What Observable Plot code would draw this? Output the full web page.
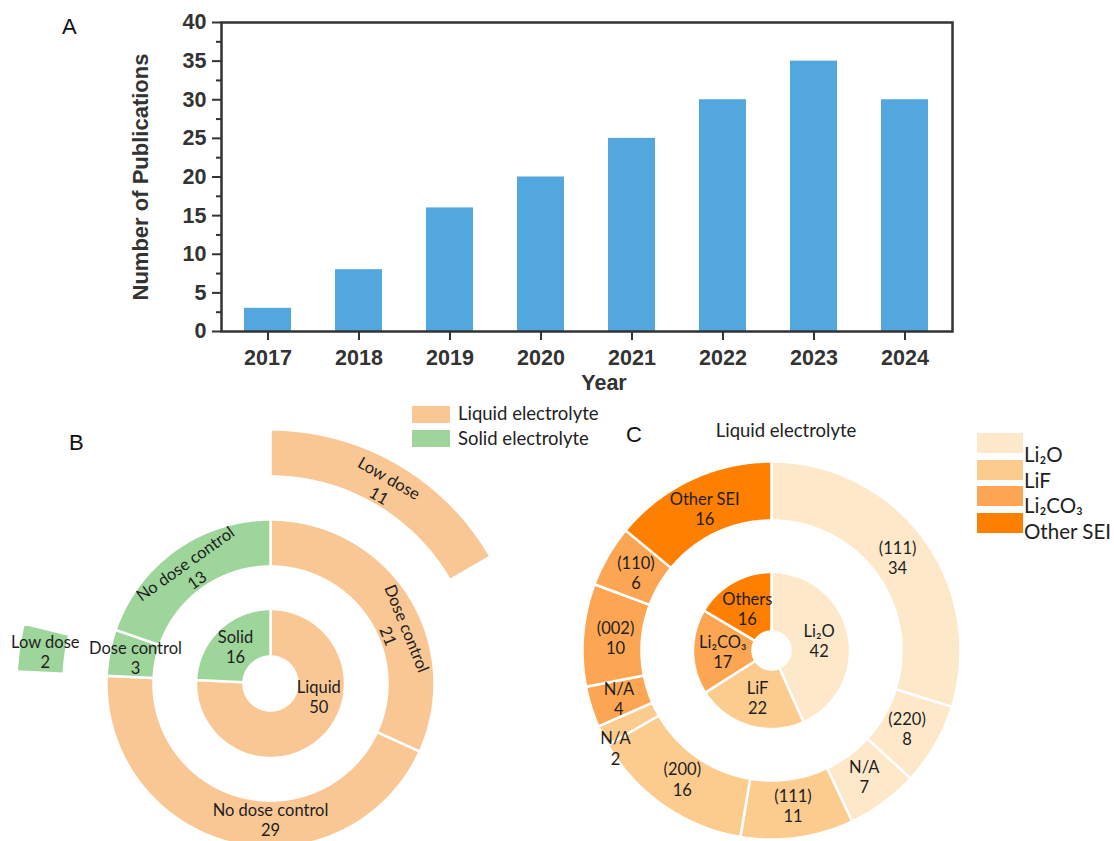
<!DOCTYPE html>
<html>
<head>
<meta charset="utf-8">
<script src="https://cdn.jsdelivr.net/npm/d3@7"></script>
<script src="https://cdn.jsdelivr.net/npm/@observablehq/plot@0.6"></script>
<style>
  body { margin: 0; background: #fff; }
  #page { position: relative; width: 1114px; height: 841px; overflow: hidden; font-family: Lato, "Open Sans", sans-serif; color: #222; }
  .abs { position: absolute; white-space: nowrap; }
  .letter { font-family: "Liberation Sans", Arial, sans-serif; font-size: 22px; color: #111; height: 30px; line-height: 30px; }
  .sw { position: absolute; }
</style>
</head>
<body>
<div id="page"></div>
<script>
// ---------- Panel A data ----------
const years = ["2017", "2018", "2019", "2020", "2021", "2022", "2023", "2024"];
const publications = [3, 8, 16, 20, 25, 30, 35, 30];
const yTicks = [0, 5, 10, 15, 20, 25, 30, 35, 40];
const yMinorTicks = [2.5, 7.5, 12.5, 17.5, 22.5, 27.5, 32.5, 37.5];

// ---------- Panel B data ----------
const bInnerNames = ["Liquid", "Solid"];
const bInnerValues = [50, 16];
const bMiddleNames = ["Dose control", "No dose control", "Dose control", "No dose control"];
const bMiddleParents = ["Liquid", "Liquid", "Solid", "Solid"];
const bMiddleValues = [21, 29, 3, 13];
const bOuterNames = ["Low dose", "Low dose"];
const bOuterParents = ["Liquid", "Solid"]; // children of each "Dose control"
const bOuterValues = [11, 2];
const bLegend = ["Liquid electrolyte", "Solid electrolyte"];

// ---------- Panel C data ----------
const cInnerNames = ["Li₂O", "LiF", "Li₂CO₃", "Others"];
const cInnerGroups = ["Li2O", "LiF", "Li2CO3", "Other SEI"];
const cInnerValues = [42, 22, 17, 16];
const cOuterNames = ["(111)", "(220)", "N/A", "(111)", "(200)", "N/A", "N/A", "(002)", "(110)", "Other SEI"];
const cOuterGroups = ["Li2O", "Li2O", "Li2O", "LiF", "LiF", "LiF", "Li2CO3", "Li2CO3", "Li2CO3", "Other SEI"];
const cOuterValues = [34, 8, 7, 11, 16, 2, 4, 10, 6, 16];
const cLegend = ["Li₂O", "LiF", "Li₂CO₃", "Other SEI"];
const cTitle = "Liquid electrolyte";

// ---------- styles / layout ----------
const barColor = "#53A7DF";
const bColors = {Liquid: "#F9C794", Solid: "#9DD59B"};
const cColors = {"Li2O": "#FEE8CA", "LiF": "#FCCB8E", "Li2CO3": "#FCA654", "Other SEI": "#FF8000"};
// label placement tweaks (segment index -> [angle in degrees, radius in px])
const bLabelTweaks = {0: [105, 50], 2: [68, null], 3: [180, 136]};
const cLabelTweaks = {9: [238, 184], 10: [252.5, 160]};

const page = document.getElementById("page");
function put(el, left, top) {
  el.style.position = "absolute";
  el.style.left = left + "px";
  el.style.top = top + "px";
  page.appendChild(el);
  return el;
}
function textDiv(txt, cls, style) {
  const d = document.createElement("div");
  d.className = "abs " + (cls || "");
  d.textContent = txt;
  Object.assign(d.style, style || {});
  return d;
}

// ---------- Panel A ----------
const barData = years.map((y, i) => ({year: y, count: publications[i]}));
const axisFont = {fontSize: 21.5, fontWeight: "bold", fontFamily: "'Liberation Sans', Arial, sans-serif"};
const chartA = Plot.plot({
  width: 1114, height: 400,
  marginLeft: 221, marginRight: 162, marginTop: 22, marginBottom: 69,
  style: {background: "transparent", color: "#333"},
  x: {domain: years, paddingInner: 0.48, paddingOuter: 0.243, label: null},
  y: {domain: [0, 40], label: null},
  marks: [
    Plot.barY(barData, {x: "year", y: "count", fill: barColor}),
    Plot.axisY({ticks: yTicks, tickSize: 9, tickPadding: 6, stroke: "#333", strokeWidth: 2, fill: "#333", label: null, ...axisFont}),
    Plot.axisY({ticks: yMinorTicks, tickSize: 5, tickFormat: () => "", stroke: "#333", strokeWidth: 2, label: null}),
    Plot.axisX({tickSize: 9, tickPadding: 9, stroke: "#333", strokeWidth: 2, fill: "#333", label: null, ...axisFont}),
    Plot.frame({stroke: "#333", strokeWidth: 2.5}),
    Plot.text(["Number of Publications"], {frameAnchor: "left", dx: -81, rotate: -90, textAnchor: "middle", lineAnchor: "middle", fill: "#333", fontSize: 22, fontWeight: "bold", fontFamily: "'Liberation Sans', Arial, sans-serif"}),
    Plot.text(["Year"], {frameAnchor: "bottom", dy: 52, dx: 17, textAnchor: "middle", lineAnchor: "middle", fill: "#333", fontSize: 21.5, fontWeight: "bold", fontFamily: "'Liberation Sans', Arial, sans-serif"})
  ]
});
put(chartA, 0, 0);

// ---------- Sunburst helper ----------
function sunburst({segments, width, height, cx, cy, rings, rotateLabels, strokeWidth, tweaks, fontSize}) {
  const poly = [];
  const labels = [];
  segments.forEach((s, k) => {
    const a0 = s.start / s.total * 360, a1 = (s.start + s.value) / s.total * 360;
    const [r0, r1] = rings[s.level];
    const n = Math.max(4, Math.ceil((a1 - a0) / 0.75));
    const ring = [];
    for (let i = 0; i <= n; i++) {
      const a = (a0 + (a1 - a0) * i / n) * Math.PI / 180;
      ring.push([r1 * Math.sin(a), r1 * Math.cos(a)]);
    }
    for (let i = n; i >= 0; i--) {
      const a = (a0 + (a1 - a0) * i / n) * Math.PI / 180;
      ring.push([r0 * Math.sin(a), r0 * Math.cos(a)]);
    }
    ring.push(ring[0]);
    ring.forEach(([px, py]) => poly.push({id: k, px, py, fill: s.color}));
    const tw = tweaks[k] || [null, null];
    const am = tw[0] != null ? tw[0] : (a0 + a1) / 2;
    const rm = tw[1] != null ? tw[1] : (s.level === 0 ? (r0 + r1) / 2 : (r0 + r1) / 2 - 3);
    let rot = 0;
    if (rotateLabels && s.level > 0 && a1 - a0 > 40) {
      rot = am;
      if (rot > 90 && rot < 270) rot -= 180;
      if (rot >= 270) rot -= 360;
    }
    const ar = am * Math.PI / 180;
    labels.push({lx: rm * Math.sin(ar), ly: rm * Math.cos(ar), text: s.label + "\n" + s.value, rot});
  });
  return Plot.plot({
    width, height, margin: 0,
    style: {background: "transparent", overflow: "visible"},
    x: {domain: [-cx, width - cx], axis: null},
    y: {domain: [-(height - cy), cy], axis: null},
    color: {type: "identity"},
    marks: [
      Plot.line(poly, {x: "px", y: "py", z: "id", fill: "fill", stroke: "white", strokeWidth, curve: "linear", strokeLinejoin: "miter"}),
      Plot.text(labels, {x: "lx", y: "ly", text: "text", rotate: "rot", fontSize, fontFamily: "Lato, 'Open Sans', sans-serif", fill: "#1e1e1e", lineHeight: 1.22})
    ]
  });
}

// ---------- Panel B ----------
const bTotal = d3.sum(bInnerValues);
const bSegs = [];
{
  let acc = 0;
  bInnerNames.forEach((nm, i) => {
    bSegs.push({level: 0, start: acc, value: bInnerValues[i], total: bTotal, label: nm, color: bColors[nm]});
    acc += bInnerValues[i];
  });
  acc = 0;
  const doseStart = {};
  bMiddleNames.forEach((nm, i) => {
    const p = bMiddleParents[i];
    if (nm === "Dose control") doseStart[p] = acc;
    bSegs.push({level: 1, start: acc, value: bMiddleValues[i], total: bTotal, label: nm, color: bColors[p]});
    acc += bMiddleValues[i];
  });
  bOuterNames.forEach((nm, i) => {
    const p = bOuterParents[i];
    bSegs.push({level: 2, start: doseStart[p], value: bOuterValues[i], total: bTotal, label: nm, color: bColors[p]});
  });
}
const chartB = sunburst({
  segments: bSegs, width: 560, height: 451, cx: 270, cy: 293,
  rings: [[27, 74.5], [117, 164], [207, 254]], rotateLabels: true, strokeWidth: 2.5,
  tweaks: bLabelTweaks, fontSize: 16.5
});
put(chartB, 0, 390);

// Legend B
bLegend.forEach((t, i) => {
  const sw = document.createElement("div");
  sw.className = "sw";
  Object.assign(sw.style, {width: "38px", height: "17px", background: Object.values(bColors)[i]});
  put(sw, 412, 406 + i * 24);
  put(textDiv(t, "", {fontSize: "18.5px", height: "24px", lineHeight: "24px"}), 458, 401 + i * 24.5);
});

// ---------- Panel C ----------
const cSegs = [];
{
  const tIn = d3.sum(cInnerValues), tOut = d3.sum(cOuterValues);
  let acc = 0;
  cInnerNames.forEach((nm, i) => {
    cSegs.push({level: 0, start: acc, value: cInnerValues[i], total: tIn, label: nm, color: cColors[cInnerGroups[i]]});
    acc += cInnerValues[i];
  });
  acc = 0;
  cOuterNames.forEach((nm, i) => {
    cSegs.push({level: 1, start: acc, value: cOuterValues[i], total: tOut, label: nm, color: cColors[cOuterGroups[i]]});
    acc += cOuterValues[i];
  });
}
const chartC = sunburst({
  segments: cSegs, width: 420, height: 451, cx: 211, cy: 260,
  rings: [[19, 78.5], [130, 189]], rotateLabels: false, strokeWidth: 2.5,
  tweaks: cLabelTweaks, fontSize: 16.5
});
put(chartC, 560, 390);

put(textDiv(cTitle, "", {fontSize: "18.5px", height: "24px", lineHeight: "24px", width: "200px", textAlign: "center"}), 686, 418);

// Legend C
cLegend.forEach((t, i) => {
  const sw = document.createElement("div");
  sw.className = "sw";
  Object.assign(sw.style, {width: "46px", height: "20px", background: Object.values(cColors)[i]});
  put(sw, 977, 433 + i * 26.6);
  put(textDiv(t, "", {fontSize: "20.5px", height: "28px", lineHeight: "28px"}), 1024, 440 + i * 25.5);
});

// Panel letters
put(textDiv("A", "letter"), 62, 12);
put(textDiv("B", "letter"), 69, 428);
put(textDiv("C", "letter"), 626, 420);
</script>
</body>
</html>
